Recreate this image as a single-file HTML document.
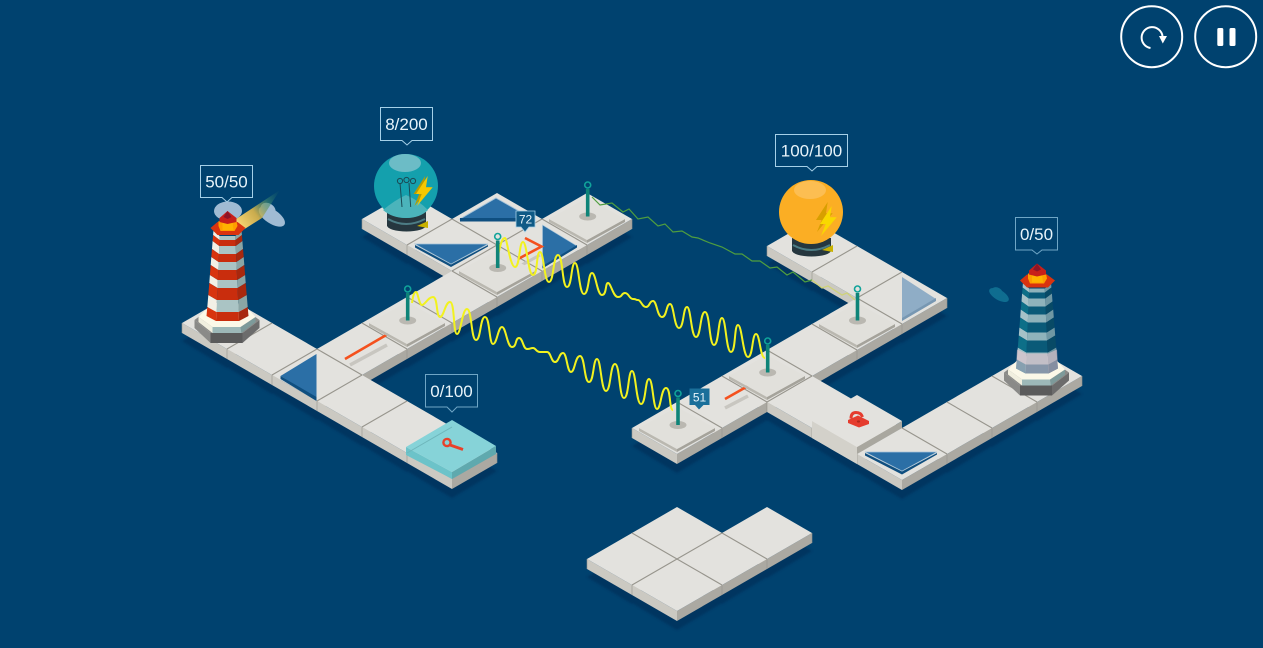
<!DOCTYPE html>
<html><head><meta charset="utf-8"><style>
html,body{margin:0;padding:0;background:#00426f;width:1263px;height:648px;overflow:hidden}
svg{display:block}
text{font-family:"Liberation Sans",sans-serif;fill:#e8f4fa;text-anchor:middle}
</style></head><body>
<svg width="1263" height="648" viewBox="0 0 1263 648" xmlns="http://www.w3.org/2000/svg">
<defs>
<filter id="b" x="-5%" y="-5%" width="110%" height="110%"><feGaussianBlur stdDeviation="1"/></filter>
<linearGradient id="beam" x1="236" y1="226" x2="282" y2="192" gradientUnits="userSpaceOnUse"><stop offset="0" stop-color="#ffdc7a"/><stop offset=".4" stop-color="#e0b84a" stop-opacity=".9"/><stop offset=".7" stop-color="#3f8a70" stop-opacity=".6"/><stop offset="1" stop-color="#1f6a6a" stop-opacity="0"/></linearGradient>
<polygon id="s" points="0,18 45,-8 90,18 45,45"/>
<g id="t">
<polygon points="0,0 45,26 45,36 0,10" fill="#cbc9c2"/>
<polygon points="45,26 90,0 90,10 45,36" fill="#aba9a2"/>
<polygon points="0,0 45,-26 90,0 45,26" fill="#e3e2de"/>
<path d="M0 0v10M90 0v10" stroke="#96948c" stroke-width=".6"/>
</g>
<g id="pad">
<polygon points="-38,0 0,21 0,24 -38,3" fill="#bab8b0"/>
<polygon points="0,21 38,0 38,3 0,24" fill="#a5a39b"/>
<polygon points="-38,0 0,-21 38,0 0,21" fill="#e1e0db"/>
</g>
<g id="pin">
<ellipse cx="0" cy="0" rx="8.5" ry="4" fill="#bab8b1"/>
<rect x="-1.8" y="-27.5" width="3.6" height="27.5" fill="#0e8478"/>
<circle cx="0" cy="-31.5" r="3" fill="none" stroke="#10a39a" stroke-width="1.6"/>
</g>
<path id="cl" d="M-7.8 236H7.8L7.9 240H-7.9ZM-8.2 246H8.2L8.5 254H-8.5ZM-8.9 262H8.9L9.2 270H-9.2ZM-9.7 280H9.7L10 288H-10ZM-10.6 300H10.6L11.1 312H-11.1Z"/>
<path id="cd" d="M-7.9 240H7.9L8.2 246H-8.2ZM-8.5 254H8.5L8.9 262H-8.9ZM-9.2 270H9.2L9.7 280H-9.7ZM-10 288H10L10.6 300H-10.6ZM-11.1 312H11.1L11.5 321H-11.5Z"/>
<path id="sl" d="M-14.1 231L-7.8 236L-7.9 240L-14.4 235ZM-14.9 241L-8.2 246L-8.5 254L-15.5 249ZM-16.2 257L-8.9 262L-9.2 270L-16.8 265ZM-17.6 275L-9.7 280L-10 288L-18.2 283ZM-19.2 295L-10.6 300L-11.1 312L-20.2 307Z"/>
<path id="sd" d="M-14.4 235L-7.9 240L-8.2 246L-14.9 241ZM-15.5 249L-8.5 254L-8.9 262L-16.2 257ZM-16.8 265L-9.2 270L-9.7 280L-17.6 275ZM-18.2 283L-10 288L-10.6 300L-19.2 295ZM-20.2 307L-11.1 312L-11.5 321L-21 316Z"/>
<g id="plinth">
<polygon points="-33,320 -17,308 15,308 32,320 15,333 -17,333" fill="#8a8a88"/>
<polygon points="-33,320 -17,333 -17,343 -33,328" fill="#8a8a88"/>
<polygon points="-17,333 15,333 15,343 -17,343" fill="#5b5b5b"/>
<polygon points="15,333 32,320 32,328 15,343" fill="#6c6c6c"/>
<polygon points="-29,317 -15,327 -15,333 -29,322" fill="#f1efdf"/>
<polygon points="-15,327 13,327 14,333 -15,333" fill="#9db8b8"/>
<polygon points="13,327 28,317 28,322 14,333" fill="#7d9a9a"/>
<polygon points="-29,317 -17,305 17,305 28,317 13,327 -15,327" fill="#fbf8e8"/>
</g>
<g id="cap">
<polygon points="-17,228 -10,222 10,222 18,228 11,235 -10,235" fill="#d9330f"/>
<polygon points="-9,221 9,221 10,226 7,231 -7,231 -9,226" fill="#ff9d00"/>
<polygon points="-5,222 5,222 6,230 -5,230" fill="#ffb300"/>
<polygon points="-8,218 0,211 9,218 9,222 0,224 -8,222" fill="#c8201a"/>
<polygon points="-4,217 0,211 4,217 0,219" fill="#8d1426"/>
</g>
<polygon id="bolt" points="426.7,176 415,194 420.7,194 416,206 431.7,187.3 425,187.3"/>
</defs>

<rect width="1263" height="648" fill="#00426f"/>

<!-- shadows -->
<g fill="#003660" filter="url(#b)">
<use href="#s" x="362" y="219"/><use href="#s" x="407" y="245"/><use href="#s" x="542" y="219"/><use href="#s" x="497" y="245"/><use href="#s" x="452" y="271"/><use href="#s" x="407" y="297"/><use href="#s" x="362" y="323"/><use href="#s" x="317" y="349"/>
<use href="#s" x="182" y="323"/><use href="#s" x="227" y="349"/><use href="#s" x="272" y="375"/><use href="#s" x="317" y="401"/><use href="#s" x="362" y="427"/><use href="#s" x="407" y="453"/>
<use href="#s" x="767" y="246"/><use href="#s" x="812" y="272"/><use href="#s" x="857" y="298"/><use href="#s" x="812" y="324"/><use href="#s" x="767" y="350"/><use href="#s" x="722" y="376"/><use href="#s" x="677" y="402"/><use href="#s" x="632" y="428"/><use href="#s" x="767" y="402"/><use href="#s" x="812" y="428"/><use href="#s" x="857" y="454"/><use href="#s" x="902" y="428"/><use href="#s" x="947" y="402"/><use href="#s" x="992" y="376"/>
<use href="#s" x="587" y="559"/><use href="#s" x="632" y="585"/><use href="#s" x="632" y="533"/><use href="#s" x="677" y="559"/><use href="#s" x="722" y="533"/>
</g>

<!-- tiles -->
<use href="#t" x="362" y="219"/><use href="#t" x="452" y="219"/><use href="#t" x="542" y="219"/><use href="#t" x="407" y="245"/><use href="#t" x="497" y="245"/><use href="#t" x="452" y="271"/><use href="#t" x="407" y="297"/><use href="#t" x="182" y="323"/><use href="#t" x="362" y="323"/><use href="#t" x="227" y="349"/><use href="#t" x="317" y="349"/><use href="#t" x="272" y="375"/><use href="#t" x="317" y="401"/><use href="#t" x="362" y="427"/><use href="#t" x="407" y="453"/>
<use href="#t" x="767" y="246"/><use href="#t" x="812" y="272"/><use href="#t" x="857" y="298"/><use href="#t" x="812" y="324"/><use href="#t" x="767" y="350"/><use href="#t" x="992" y="376"/><use href="#t" x="722" y="376"/><use href="#t" x="677" y="402"/><use href="#t" x="767" y="402"/><use href="#t" x="947" y="402"/><use href="#t" x="632" y="428"/><use href="#t" x="812" y="428"/><use href="#t" x="902" y="428"/><use href="#t" x="857" y="454"/>
<use href="#t" x="722" y="533"/><use href="#t" x="632" y="533"/><use href="#t" x="587" y="559"/><use href="#t" x="677" y="559"/><use href="#t" x="632" y="585"/>

<!-- seams -->
<path fill="none" stroke="#97958d" stroke-width="1.1" d="M227 349L272 323M272 375L317 349M317 401L362 375M362 427L407 401M407 453L452 427M317 349L362 375M362 323L407 349M407 297L452 323M452 271L497 297M497 245L542 271M542 219L587 245M452 271L497 245M452 219L497 245M497 245L542 219M407 245L452 219M812 272L857 246M857 298L902 272M857 298L902 324M812 324L857 350M767 350L812 376M722 376L767 402M677 402L722 428M767 402L812 376M902 428L947 454M947 402L992 428M992 376L1037 402M677 559L722 533M677 559L632 585M677 559L632 533M677 559L722 585M722 533L767 559"/>

<!-- locked box -->
<polygon points="812,421 857,447 857,464 812,438" fill="#d3d1ca"/>
<polygon points="857,447 902,421 902,428 857,454" fill="#a9a79f"/>
<polygon points="812,421 857,395 902,421 857,447" fill="#e3e2de"/>
<path d="M851 418.5Q851 412.5 856 412.5Q861 412.5 862.5 417" fill="none" stroke="#e53c2e" stroke-width="3"/>
<polygon points="848,420 858,415.5 869,421 869,424 859,427.5 848,423" fill="#e53c2e"/>
<ellipse cx="858.5" cy="421.5" rx="1.6" ry="1.1" fill="#b02a1e"/>

<!-- mirrors -->
<g>
<polygon points="280.5,376 316.5,354 316.5,398" fill="#2b6fa6"/>
<polygon points="280.5,376 316.5,397 316.5,401 280.5,379" fill="#0f4f80"/>
<polygon points="415,244 488,244 451,264" fill="#2b6fa6" stroke="#9fc0d8" stroke-width=".7"/>
<polygon points="415,245 451,264.5 488,245 488,246.5 451,267 415,247.5" fill="#0f4f80"/>
<polygon points="496,198 533,219 460,219" fill="#2b6fa6" stroke="#a6c4da" stroke-width="1"/>
<rect x="460" y="218" width="73" height="3.5" fill="#0f4f80"/>
<polygon points="542.5,225 577,246 542.5,267" fill="#2b6fa6" stroke="#a6c4da" stroke-width=".6"/>
<polygon points="542.5,266 577,245 577,247.5 542.5,268.5" fill="#0f4f80"/>
<polygon points="902,277 936,299 902,320" fill="#8fadc6"/>
<polygon points="902,318 936,298 936,301 902,321" fill="#7797b2"/>
<polygon points="865,452 937,452 902,471" fill="#2b6fa6" stroke="#a6c4da" stroke-width=".7"/>
<polygon points="865,453 902,471.5 937,453 937,454.5 902,474.5 865,455.5" fill="#0f4f80"/>
</g>

<!-- red lines -->
<path d="M350 365L387 345" stroke="#c8c6c0" stroke-width="3.5"/>
<path d="M345 359L388 334" stroke="#f4511e" stroke-width="2.6"/>
<path d="M725 408L748 396" stroke="#c8c6c0" stroke-width="3.5"/>
<path d="M725 399L748 386" stroke="#f4511e" stroke-width="2.6"/>
<path d="M520 266L540 255" stroke="#c8c6c0" stroke-width="3"/>
<path d="M525 238L541.5 246.5L518 259" fill="none" stroke="#f4511e" stroke-width="2.6"/>

<!-- key tile contents -->
<polygon points="406,447 452,472 452,479 406,455" fill="#6cc3c9"/>
<polygon points="452,472 496,446 496,454 452,479" fill="#5fa9ae"/>
<polygon points="406,447 452,420 496,446 452,472" fill="#86d3d8"/>
<path d="M407 453L452 427" stroke="#6eb6bb" stroke-width="1"/>
<circle cx="447" cy="442.5" r="3.6" fill="none" stroke="#e8412a" stroke-width="2.4"/>
<path d="M450 445L463 449.5" stroke="#e8412a" stroke-width="2.8"/>

<!-- pads -->
<use href="#pad" x="407" y="323"/><use href="#pad" x="497" y="271"/><use href="#pad" x="587" y="219"/>
<use href="#pad" x="677" y="428"/><use href="#pad" x="767" y="376"/><use href="#pad" x="857" y="324"/>

<!-- waves -->
<path fill="none" stroke="#4f9e3f" stroke-width="1.2" d="M592 197L600 205L612 203L623 212L629 209L638 219L648 217L658 226L665 224L673 232L682 231L692 237L698 238L710 243L722 247L735 254L742 254L752 261L760 261L770 268L777 267L787 275L793 272L805 282L812 280"/>
<path fill="none" stroke="#cfd27a" stroke-width="1.3" d="M812 280L822 288L828 286L842 295L847 293L855 300"/>
<path fill="none" stroke="#f2f21e" stroke-width="2" d="M498 256C501 240 503 238 505 238S510 267 515 267S519 242 523 242S528 275 533 275S536 252 540 252S544 282 549 282S553 255 558 255S562 287 567 287S571 263 575 263S579 294 584 294S588 273 592 273S597 295 602 295S605 283 608 283S613 297 618 297S621 293 625 293S629 299 633 299S635 300 638 300S642 307 646 307S649 301 653 301S657 317 662 317S666 304 670 304S674 328 679 328S683 307 687 307S691 337 696 337S700 312 705 312S709 345 714 345S718 318 722 318S726 352 731 352S734 325 738 325S743 357 748 357S752 334 756 334S760 358 765 358"/>
<path fill="none" stroke="#f2f21e" stroke-width="2" d="M412 303C413 296 414 292 416 292S419 305 422 305S428 297 433 297S436 317 440 317S445 302 450 302S453 334 457 334S462 309 467 309S471 340 476 340S480 317 485 317S489 344 493 344S498 327 502 327S507 347 512 347S515 338 519 338S523 349 527 349S530 348 533 348S536 352 540 352S543 352 547 352S551 362 555 362S559 353 563 353S567 372 571 372S575 356 580 356S584 382 589 382S593 359 597 359S601 391 606 391S610 364 615 364S619 398 624 398S628 371 632 371S636 404 641 404S645 379 649 379S653 409 657 409S661 388 666 388S669 410 673 410"/>

<!-- pins -->
<use href="#pin" x="407.7" y="320.5"/><use href="#pin" x="497.7" y="268"/><use href="#pin" x="587.7" y="216.5"/>
<use href="#pin" x="678" y="425"/><use href="#pin" x="767.7" y="372.5"/><use href="#pin" x="857.5" y="320.5"/>

<!-- left lighthouse -->
<ellipse cx="228" cy="211" rx="14" ry="9.5" fill="#a0bbd3"/>
<g transform="rotate(33 271 216)"><ellipse cx="272" cy="216" rx="15" ry="7" fill="#a0bbd3"/><ellipse cx="265" cy="212" rx="8" ry="6" fill="#a0bbd3"/></g>
<polygon points="236,219 280,190 262,218 243,230 236,228" fill="url(#beam)"/>
<g transform="translate(227.5,0)">
<use href="#plinth"/>
<use href="#cl" fill="#aac4c4"/><use href="#cd" fill="#c92d0d"/>
<use href="#sl" fill="#f2f0e6"/><use href="#sd" fill="#d8340f"/>
<use href="#sl" fill="#8aa5a5" transform="scale(-1,1)"/><use href="#sd" fill="#a8280e" transform="scale(-1,1)"/>
<use href="#cap"/>
</g>

<!-- right lighthouse -->
<g transform="rotate(30 999 295)"><ellipse cx="999" cy="295" rx="11" ry="5" fill="#0f6d90"/><ellipse cx="996" cy="293" rx="6" ry="4" fill="#0f6d90"/></g>
<g transform="translate(1037,52.5)">
<use href="#plinth"/>
<use href="#cl" fill="#8fb3bb"/><use href="#cd" fill="#0a5a78"/>
<use href="#sl" fill="#a6c2c8"/><use href="#sd" fill="#0d6f88"/>
<use href="#sl" fill="#6f97a3" transform="scale(-1,1)"/><use href="#sd" fill="#084a66" transform="scale(-1,1)"/>
<polygon points="-20,297 -11,301 11,301 20,297 21,316 11.5,321 -11.5,321 -21,316" fill="#ecc8d2" fill-opacity=".55"/>
<use href="#cap"/>
</g>

<!-- cyan bulb -->
<rect x="387" y="212" width="39" height="14" fill="#26373f"/>
<ellipse cx="406.5" cy="225.5" rx="19.5" ry="6" fill="#26373f"/>
<path d="M388 219Q406 229 425 219" fill="none" stroke="#4d7d85" stroke-width="2"/>
<polygon points="417,226 428,221 428,228" fill="#c9b200"/>
<circle cx="406" cy="186" r="32" fill="#14a0ad"/>
<ellipse cx="405" cy="163" rx="16" ry="9" fill="#6cbcc6"/>
<path d="M383 210Q395 200 406 195Q418 200 428 210Q420 218 406 218Q392 218 383 210Z" fill="#4bb4bb"/>
<path d="M402 207L400 183M410.7 207L409 183" stroke="#1b4a55" stroke-width="1" fill="none"/>
<g fill="none" stroke="#1b4a55" stroke-width="1"><circle cx="400" cy="181" r="2.6"/><circle cx="406.5" cy="180" r="2.6"/><circle cx="413" cy="181" r="2.6"/></g>
<use href="#bolt" fill="#b89b00" x="-1.5"/>
<use href="#bolt" fill="#f7c800" x="1"/>

<!-- orange bulb -->
<rect x="792" y="238" width="39" height="13" fill="#26373f"/>
<ellipse cx="811.5" cy="250.5" rx="19.5" ry="6" fill="#26373f"/>
<path d="M793 245Q811 255 830 245" fill="none" stroke="#4d7d85" stroke-width="2"/>
<polygon points="822,250 833,245 833,252" fill="#c9b200"/>
<circle cx="811" cy="212" r="32" fill="#fbae24"/>
<ellipse cx="810" cy="190" rx="16" ry="9" fill="#fcbe52"/>
<use href="#bolt" fill="#d89f00" x="401" y="26"/>
<use href="#bolt" fill="#f9d800" x="405" y="30"/>

<!-- labels -->
<g fill="#00426f" stroke="#a5d0e8" stroke-width="1">
<path d="M200.5 165.5H252.5V197.5H232L227 202L222 197.5H200.5Z"/>
<path d="M380.5 107.5H432.5V140.5H412L407 145L402 140.5H380.5Z"/>
<path d="M775.5 134.5H847.5V166.5H817L812 171L807 166.5H775.5Z"/>
</g>
<g fill="#00426f" stroke="#6fa6c6" stroke-width="1">
<path d="M1015.5 217.5H1057.5V250H1042L1037 254L1032 250H1015.5Z"/>
<path d="M425.5 374.5H477.5V407H457L452 412L447 407H425.5Z"/>
</g>
<text x="226.5" y="187.5" font-size="17">50/50</text>
<text x="406.5" y="130" font-size="17">8/200</text>
<text x="811.5" y="156.5" font-size="17">100/100</text>
<text x="1036.5" y="240" font-size="17">0/50</text>
<text x="451.5" y="397" font-size="17">0/100</text>

<path d="M516 211H535V227H529L525 232L521 227H516Z" fill="#0f5a86" stroke="#a5d0e8" stroke-width=".8"/>
<text x="525.5" y="223.5" font-size="12">72</text>
<path d="M689.5 388.5H709.5V405H703.5L699 409.5L695 405H689.5Z" fill="#1a6f9a"/>
<text x="699.5" y="401.5" font-size="12">51</text>

<!-- buttons -->
<circle cx="1151.7" cy="36.7" r="30.5" fill="none" stroke="#fff" stroke-width="2"/>
<circle cx="1225.7" cy="36.7" r="30.5" fill="none" stroke="#fff" stroke-width="2"/>
<path d="M1150.5 48A10.5 10.5 0 1 1 1162.5 36" fill="none" stroke="#fff" stroke-width="2"/>
<polygon points="1159,36 1167,36 1162.8,43.5" fill="#fff"/>
<rect x="1217.3" y="28" width="6" height="18" rx="1.5" fill="#fff"/>
<rect x="1229.5" y="28" width="6" height="18" rx="1.5" fill="#fff"/>
</svg>
</body></html>
